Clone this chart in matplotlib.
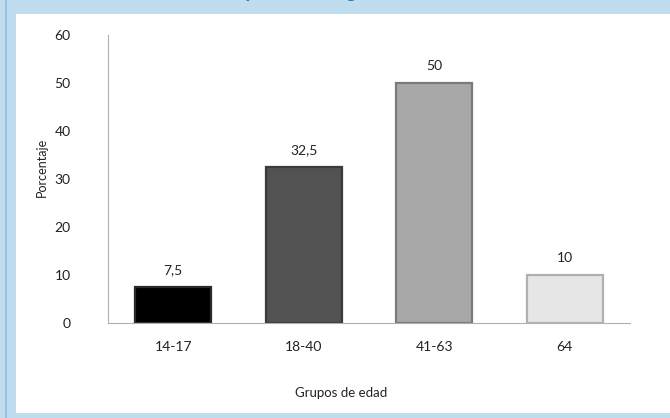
import matplotlib.pyplot as plt
from matplotlib.patches import Rectangle

categories = ["14-17", "18-40", "41-63", "64"]
values = [7.5, 32.5, 50, 10]
value_labels = ["7,5", "32,5", "50", "10"]
bar_colors = ["#000000", "#525252", "#a8a8a8", "#e6e6e6"]
edge_colors = ["#2a2a2a", "#3a3a3a", "#7a7a7a", "#b0b0b0"]
yticks = [0, 10, 20, 30, 40, 50, 60]

plt.rcParams['font.family'] = ['Lato', 'DejaVu Sans']

W, H = 670, 418
fig = plt.figure(figsize=(W / 100, H / 100), dpi=100)
fig.patch.set_facecolor("#c0ddf0")

# white panel
fig.patches.append(Rectangle((16 / W, 5 / H), 1 - 16 / W, 399 / H,
                             transform=fig.transFigure, facecolor="white",
                             edgecolor="none", zorder=0))
fig.lines.append(plt.Line2D([5.5 / W, 5.5 / W], [0, 1], transform=fig.transFigure,
                            color="#8fc0e2", lw=1.2, zorder=0))

# cut-off title
fig.text(0.2, 1.0 + 2 / H, "Distribución por edad según", color="#1a7fc8",
         fontsize=14, fontweight="bold", ha="left", va="baseline")

ax = fig.add_axes([108 / W, 95 / H, (630 - 108) / W, (383 - 95) / H])
ax.set_zorder(3)
x = list(range(len(categories)))
bars = ax.bar(x, values, width=0.58, color=bar_colors, edgecolor=edge_colors,
              linewidth=1.6, zorder=2)
for xi, v, lab in zip(x, values, value_labels):
    ax.annotate(lab, (xi, v), xytext=(0, 8), textcoords="offset points",
                ha="center", va="bottom", fontsize=10, color="#222222")

ax.set_xlim(-0.5, 3.5)
ax.set_ylim(0, 60)
ax.set_yticks(yticks)
ax.set_xticks(x)
ax.set_xticklabels(categories)
ax.tick_params(axis="y", length=0, pad=27, labelsize=10, labelcolor="#222222")
ax.tick_params(axis="x", length=0, pad=13, labelsize=10, labelcolor="#222222")
for s in ["top", "right"]:
    ax.spines[s].set_visible(False)
ax.spines["left"].set_color("#b0b0b0")
ax.spines["bottom"].set_color("#b0b0b0")
ax.set_facecolor("none")

fig.text(42 / W, 1 - 167 / H, "Porcentaje", rotation=90, ha="center", va="center",
         fontsize=9, color="#222222", zorder=4)
fig.text(341 / W, 1 - 393 / H, "Grupos de edad", ha="center", va="center",
         fontsize=9.5, color="#222222", zorder=4)

fig.savefig("out.png", dpi=100, facecolor=fig.get_facecolor())
